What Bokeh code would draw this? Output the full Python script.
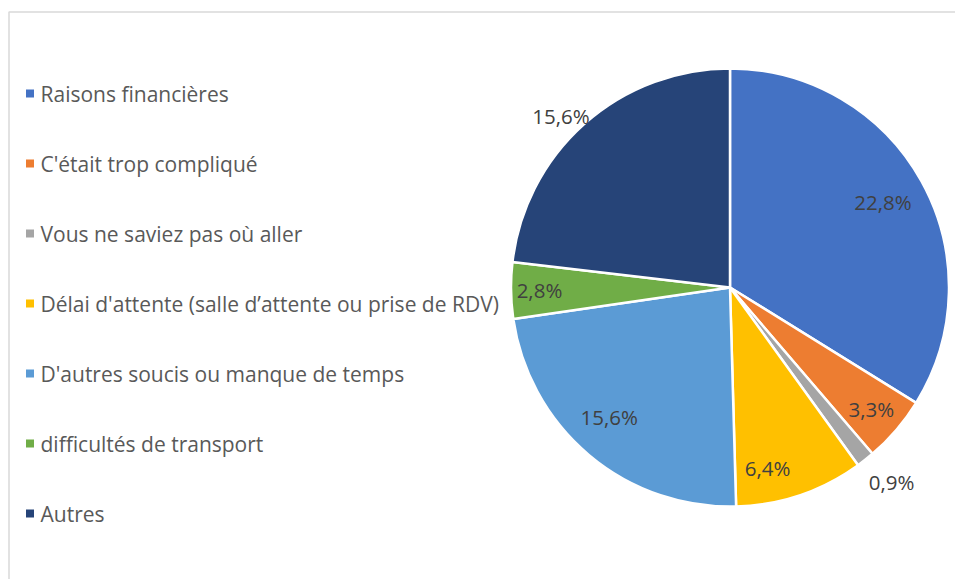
import math
from bokeh.plotting import figure
from bokeh.models import Range1d, ColumnDataSource
from bokeh.core.properties import value
from bokeh.embed import file_html
from bokeh.resources import INLINE

# ---- data ----
categories = [
    "Raisons financières",
    "C'était trop compliqué",
    "Vous ne saviez pas où aller",
    "Délai d'attente (salle d’attente ou prise de RDV)",
    "D'autres soucis ou manque de temps",
    "difficultés de transport",
    "Autres",
]
values = [22.8, 3.3, 0.9, 6.4, 15.6, 2.8, 15.6]
labels = ["22,8%", "3,3%", "0,9%", "6,4%", "15,6%", "2,8%", "15,6%"]
colors = ["#4472C4", "#ED7D31", "#A5A5A5", "#FFC000", "#5B9BD5", "#70AD47", "#264478"]

# ---- layout (pixel-like coordinates, y up = -image y) ----
W, H = 955, 579
CX, CY, R = 729.5, -287.0, 219.0
label_r = [0.80, 0.85, 1.153, 0.84, 0.81, 0.87, 1.10]
label_dtheta = [0.0, 0.0, 0.028, -0.12, -0.05, 0.0, 0.05]
FONT = "Open Sans"

p = figure(width=W, height=H, x_range=Range1d(0, W), y_range=Range1d(-H, 0),
           output_backend="svg", toolbar_location=None, min_border=0)
p.axis.visible = False
p.grid.visible = False
p.outline_line_color = None
p.background_fill_color = "white"
p.border_fill_color = "white"

# chart frame (cropped)
p.line(x=[8.5, 8.5, 960], y=[-600, -11.5, -11.5], line_color="#D9D9D9", line_width=1.5)

total = sum(values)
starts, ends, mids = [], [], []
cum = 0.0
for v in values:
    a0 = math.pi / 2 - cum / total * 2 * math.pi
    cum += v
    a1 = math.pi / 2 - cum / total * 2 * math.pi
    starts.append(a1)
    ends.append(a0)
    mids.append((a0 + a1) / 2)

src = ColumnDataSource(dict(start=starts, end=ends, color=colors))
p.wedge(x=CX, y=CY, radius=R, start_angle="start", end_angle="end",
        fill_color="color", line_color="white", line_width=2.5, source=src)

lx = [CX + R * f * math.cos(m + d) for f, m, d in zip(label_r, mids, label_dtheta)]
ly = [CY + R * f * math.sin(m + d) for f, m, d in zip(label_r, mids, label_dtheta)]
p.text(x=lx, y=ly, text=labels, text_align="center", text_baseline="middle",
       text_font=value(FONT), text_font_size="20.5px", text_color="#404040")

# legend
row0, step = -93.0, -70.0
ys = [row0 + i * step for i in range(len(categories))]
p.scatter(x=[29.5] * len(categories), y=ys, marker="square", size=8,
          fill_color=colors, line_color=None)
p.text(x=[40] * len(categories), y=ys, text=categories, text_align="left",
       text_baseline="middle", text_font=value(FONT), text_font_size="21px",
       text_color="#595959")

open("out.html", "w").write(file_html(p, INLINE))
